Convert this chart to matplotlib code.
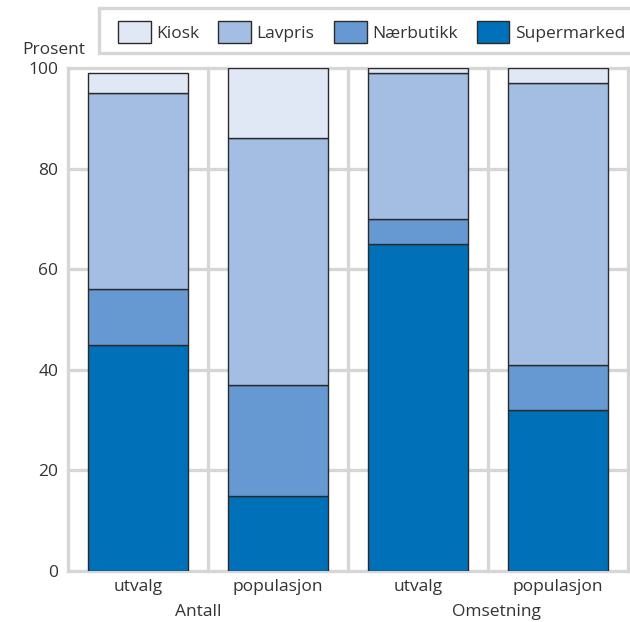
import numpy as np
import matplotlib
matplotlib.use("Agg")
import matplotlib.pyplot as plt
from matplotlib.patches import Patch, Rectangle

# Data
kategorier = ["utvalg", "populasjon", "utvalg", "populasjon"]
grupper = ["Antall", "Omsetning"]
serier = ["Kiosk", "Lavpris", "Nærbutikk", "Supermarked"]
supermarked = [45, 15, 65, 32]
naerbutikk = [11, 22, 5, 9]
lavpris = [39, 49, 29, 56]
kiosk = [4, 14, 1, 3]

farger = {"Kiosk": "#e1e8f5", "Lavpris": "#a3bee2",
          "Nærbutikk": "#6699d1", "Supermarked": "#0070b9"}
GRID = "#d6d6d6"
TXT = "#333333"
FS = 12.5
W, H = 630, 622

plt.rcParams["font.family"] = ["Open Sans", "DejaVu Sans"]

fig = plt.figure(figsize=(W / 100, H / 100), dpi=100)
ax = fig.add_axes([68 / W, 1 - 571 / H, 560 / W, 503 / H])

x = np.arange(len(kategorier))
bredde = 0.72
bunn = np.zeros(len(x))
for navn, verdier in [("Supermarked", supermarked), ("Nærbutikk", naerbutikk),
                      ("Lavpris", lavpris), ("Kiosk", kiosk)]:
    ax.bar(x, verdier, bredde, bottom=bunn, color=farger[navn],
           edgecolor="#2a2a2a", linewidth=1.0, zorder=3)
    bunn += np.array(verdier)

ax.set_xlim(-0.5, 3.5)
ax.set_ylim(0, 100)
ax.set_yticks(range(0, 101, 20))
ax.set_xticks(x)
ax.set_xticklabels(kategorier)

# grey grid: horizontal at ticks, vertical separators between bars
for yv in range(0, 101, 20):
    ax.axhline(yv, color=GRID, lw=2.4, zorder=1, clip_on=False)
for xv in [-0.5, 0.5, 1.5, 2.5, 3.5]:
    ax.axvline(xv, color=GRID, lw=2.4, zorder=1, clip_on=False)

for s in ax.spines.values():
    s.set_visible(False)
ax.tick_params(length=0, labelsize=FS, colors=TXT)
ax.tick_params(axis="x", pad=6)
ax.tick_params(axis="y", pad=7)

ax.text(0.43, -0.082, grupper[0], transform=ax.get_xaxis_transform(),
        ha="center", va="center", fontsize=FS, color=TXT)
ax.text(2.56, -0.082, grupper[1], transform=ax.get_xaxis_transform(),
        ha="center", va="center", fontsize=FS, color=TXT)
fig.text(22 / W, 1 - 50 / H, "Prosent", ha="left", va="center",
         fontsize=FS, color=TXT)

# legend box, open to the right edge like the reference
fig.patches.append(Rectangle((99 / W, 1 - 53 / H), 560 / W, 45 / H,
                             transform=fig.transFigure, facecolor="white",
                             edgecolor=GRID, linewidth=2.4, zorder=0))
handles = [Patch(facecolor=farger[s], edgecolor="#2a2a2a", linewidth=1.0)
           for s in serier]
leg = fig.legend(handles, serier, ncol=4, loc="center left",
                 bbox_to_anchor=(118 / W, 1 - 32 / H), borderaxespad=0,
                 borderpad=0, frameon=False, fontsize=FS,
                 handlelength=1.9, handleheight=1.6, handletextpad=0.3,
                 columnspacing=1.1, labelcolor=TXT)

fig.savefig("out.png", dpi=100)
